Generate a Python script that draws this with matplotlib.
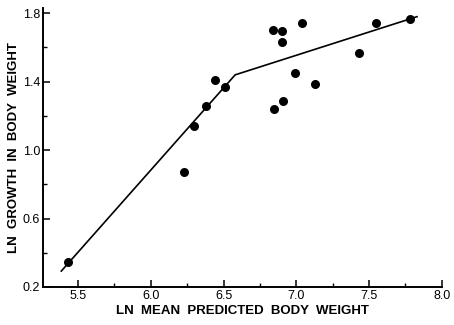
import matplotlib
matplotlib.use("Agg")
import matplotlib.pyplot as plt
from matplotlib.ticker import MultipleLocator

# observed points (ln mean predicted body weight, ln growth in body weight)
ln_weight = [5.43, 6.23, 6.30, 6.38, 6.44, 6.51, 6.84, 6.90, 6.905, 7.04,
             6.99, 7.13, 6.91, 6.85, 7.43, 7.55, 7.78]
ln_growth = [0.345, 0.87, 1.14, 1.255, 1.41, 1.37, 1.70, 1.695, 1.63, 1.745,
             1.45, 1.385, 1.29, 1.24, 1.565, 1.745, 1.765]

# fitted two-segment line
fit_x = [5.385, 6.58, 7.83]
fit_y = [0.293, 1.44, 1.78]

plt.rcParams["font.family"] = ["Liberation Sans", "DejaVu Sans"]

fig = plt.figure(figsize=(4.54, 3.25), dpi=100)
ax = fig.add_axes([0.095, 0.117, 0.878, 0.858])

ax.plot(fit_x, fit_y, color="black", lw=1.2)
ax.scatter(ln_weight, ln_growth, s=30, color="black", zorder=3)

ax.set_xlim(5.26, 8.0)
ax.set_ylim(0.2, 1.83)
ax.xaxis.set_minor_locator(MultipleLocator(0.25))
ax.yaxis.set_minor_locator(MultipleLocator(0.2))
ax.set_xticks([5.5, 6.0, 6.5, 7.0, 7.5, 8.0])
ax.set_yticks([0.2, 0.6, 1.0, 1.4, 1.8])
ax.set_xticklabels(["5.5", "6.0", "6.5", "7.0", "7.5", "8.0"])
ax.set_yticklabels(["0.2", "0.6", "1.0", "1.4", "1.8"])

ax.spines["top"].set_visible(False)
ax.spines["right"].set_visible(False)
for s in ("left", "bottom"):
    ax.spines[s].set_linewidth(1.4)
ax.tick_params(which="major", direction="in", length=5, width=1.1,
               labelsize=9, pad=2)
ax.tick_params(which="minor", direction="in", length=3, width=1.0)

ax.set_xlabel("LN  MEAN  PREDICTED  BODY  WEIGHT", fontsize=9.5,
              fontweight="bold", labelpad=2)
ax.set_ylabel("LN  GROWTH  IN  BODY  WEIGHT", fontsize=9.5,
              fontweight="bold", labelpad=2)

fig.savefig("out.png", dpi=100)
